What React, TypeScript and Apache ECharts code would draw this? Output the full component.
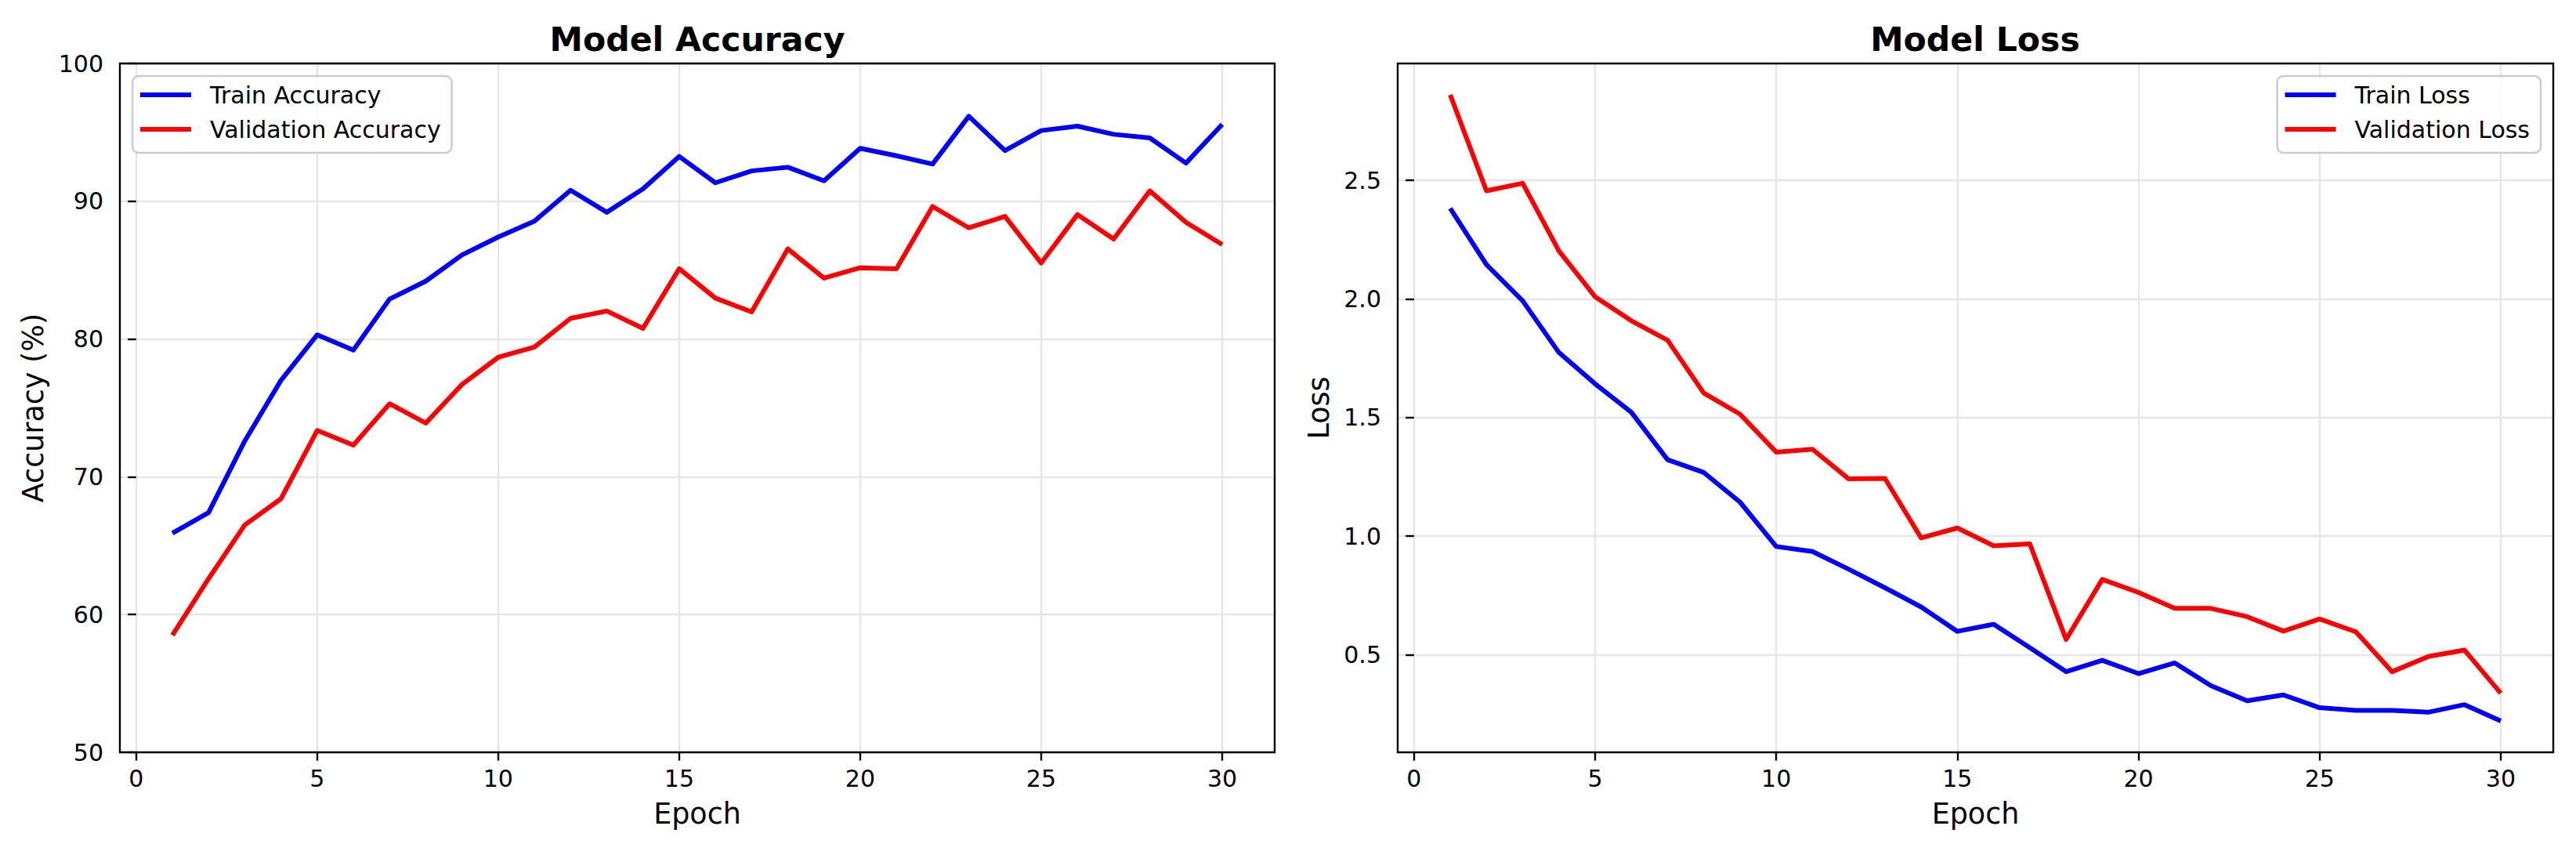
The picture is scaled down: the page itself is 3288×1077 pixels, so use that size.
import React, { useEffect, useRef } from "react";
import * as echarts from "echarts";

const epochs = [1, 2, 3, 4, 5, 6, 7, 8, 9, 10, 11, 12, 13, 14, 15, 16, 17, 18, 19, 20, 21, 22, 23, 24, 25, 26, 27, 28, 29, 30];

const trainAcc = [65.9, 67.4, 72.6, 77.0, 80.3, 79.2, 82.9, 84.2, 86.1, 87.4, 88.55, 90.8, 89.2, 90.9, 93.25, 91.34, 92.2, 92.47, 91.48, 93.84, 93.3, 92.7, 96.17, 93.68, 95.13, 95.45, 94.86, 94.6, 92.77, 95.58];
const valAcc = [58.5, 62.6, 66.5, 68.4, 73.36, 72.3, 75.3, 73.9, 76.7, 78.67, 79.42, 81.5, 82.03, 80.77, 85.1, 82.97, 81.97, 86.54, 84.42, 85.17, 85.09, 89.62, 88.07, 88.9, 85.52, 89.03, 87.26, 90.75, 88.47, 86.86];
const trainLoss = [2.382, 2.145, 1.992, 1.774, 1.642, 1.522, 1.322, 1.268, 1.143, 0.956, 0.935, 0.86, 0.782, 0.701, 0.598, 0.628, 0.529, 0.428, 0.476, 0.42, 0.465, 0.369, 0.305, 0.33, 0.276, 0.265, 0.265, 0.257, 0.289, 0.22];
const valLoss = [2.861, 2.456, 2.488, 2.203, 2.009, 1.908, 1.826, 1.603, 1.514, 1.354, 1.366, 1.241, 1.243, 0.992, 1.034, 0.959, 0.967, 0.564, 0.817, 0.762, 0.695, 0.695, 0.66, 0.599, 0.65, 0.596, 0.428, 0.492, 0.519, 0.337];

const xTicks = [0, 5, 10, 15, 20, 25, 30];
const accTicks = [50, 60, 70, 80, 90, 100];
const lossTicks = [0.5, 1.0, 1.5, 2.0, 2.5];

const titles = ["Model Accuracy", "Model Loss"];
const yNames = ["Accuracy (%)", "Loss"];
const xName = "Epoch";
const seriesNames = ["Train Accuracy", "Validation Accuracy", "Train Loss", "Validation Loss"];

const FONT = "DejaVu Sans";
const BLUE = "#0000ff";
const RED = "#ff0000";

function pad(arr: number[][], frac: number): [number, number] {
  let lo = Infinity, hi = -Infinity;
  arr.forEach((a) => a.forEach((v) => { lo = Math.min(lo, v); hi = Math.max(hi, v); }));
  const r = hi - lo;
  return [lo - r * frac, hi + r * frac];
}

export default function App() {
  const ref = useRef<HTMLDivElement>(null);
  useEffect(() => {
    if (!ref.current) return;
    const chart = echarts.init(ref.current, undefined, { renderer: "svg" });
    const xr = pad([epochs], 0.05);
    const lr = pad([trainLoss, valLoss], 0.05);

    const grids = [
      { left: 153, top: 81, width: 1474, height: 879 },
      { left: 1784, top: 81, width: 1475, height: 879 },
    ];

    const xAxis = [0, 1].map((i) => ({
      type: "value",
      gridIndex: i,
      min: xr[0],
      max: xr[1],
      axisLine: { show: false },
      axisTick: { show: true, length: 10.6, inside: false, lineStyle: { color: "#000", width: 2.4 }, customValues: xTicks },
      axisLabel: { customValues: xTicks, margin: 18, fontSize: 30, fontFamily: FONT, color: "#000" },
      splitLine: { show: true, lineStyle: { color: "#e6e6e6", width: 2.4 } },
      name: xName,
      nameLocation: "middle",
      nameGap: 60,
      nameTextStyle: { fontSize: 36.5, fontFamily: FONT, color: "#000" },
    }));

    const yAxis = [
      {
        type: "value",
        gridIndex: 0,
        min: accTicks[0],
        max: accTicks[accTicks.length - 1],
        axisLine: { show: false },
        axisTick: { show: true, length: 10.6, inside: false, lineStyle: { color: "#000", width: 2.4 }, customValues: accTicks },
        axisLabel: { customValues: accTicks, margin: 21, fontSize: 30, fontFamily: FONT, color: "#000" },
        splitLine: { show: true, lineStyle: { color: "#e6e6e6", width: 2.4 } },
        name: yNames[0],
        nameLocation: "middle",
        nameRotate: 90,
        nameGap: 92,
        nameTextStyle: { fontSize: 36.5, fontFamily: FONT, color: "#000" },
      },
      {
        type: "value",
        gridIndex: 1,
        min: lr[0],
        max: lr[1],
        axisLine: { show: false },
        axisTick: { show: true, length: 10.6, inside: false, lineStyle: { color: "#000", width: 2.4 }, customValues: lossTicks },
        axisLabel: {
          customValues: lossTicks,
          margin: 21,
          fontSize: 30,
          fontFamily: FONT,
          color: "#000",
          formatter: (v: number) => v.toFixed(1),
        },
        splitLine: { show: true, lineStyle: { color: "#e6e6e6", width: 2.4 } },
        name: yNames[1],
        nameLocation: "middle",
        nameRotate: 90,
        nameGap: 82,
        nameTextStyle: { fontSize: 36.5, fontFamily: FONT, color: "#000" },
      },
    ];

    const mk = (name: string, arr: number[], color: string, idx: number) => ({
      name,
      type: "line",
      xAxisIndex: idx,
      yAxisIndex: idx,
      data: epochs.map((e, i) => [e, arr[i]]),
      showSymbol: false,
      symbol: "none",
      color,
      lineStyle: { color, width: 6, join: "round", cap: "butt" },
      z: 3,
    });

    const legendBase = {
      orient: "vertical",
      top: 97,
      icon: "rect",
      itemWidth: 65,
      itemHeight: 6,
      itemGap: 14,
      padding: [9, 14, 15, 10],
      backgroundColor: "rgba(255,255,255,0.8)",
      borderColor: "#cccccc",
      borderWidth: 2.5,
      borderRadius: 8,
      textStyle: { fontSize: 30, fontFamily: FONT, color: "#000", padding: [0, 0, 0, 19] },
      selectedMode: false,
      z: 20,
    };

    chart.setOption({
      animation: false,
      backgroundColor: "#ffffff",
      grid: grids.map((g) => ({ ...g, show: true, borderColor: "#000", borderWidth: 0, backgroundColor: "#fff" })),
      xAxis,
      yAxis,
      legend: [
        { ...legendBase, left: 169, data: [seriesNames[0], seriesNames[1]] },
        { ...legendBase, right: 45, data: [seriesNames[2], seriesNames[3]] },
      ],
      series: [
        mk(seriesNames[0], trainAcc, BLUE, 0),
        mk(seriesNames[1], valAcc, RED, 0),
        mk(seriesNames[2], trainLoss, BLUE, 1),
        mk(seriesNames[3], valLoss, RED, 1),
      ],
      graphic: [
        ...grids.map((g) => ({
          type: "rect",
          z: 50,
          silent: true,
          shape: { x: g.left, y: g.top, width: g.width, height: g.height },
          style: { fill: "none", stroke: "#000", lineWidth: 2.4 },
        })),
        {
          type: "text",
          x: 890,
          y: 28,
          style: { text: titles[0], fontSize: 42.6, fontWeight: "bold", fontFamily: FONT, fill: "#000", align: "center", verticalAlign: "top" },
        },
        {
          type: "text",
          x: 2521,
          y: 28,
          style: { text: titles[1], fontSize: 42.6, fontWeight: "bold", fontFamily: FONT, fill: "#000", align: "center", verticalAlign: "top" },
        },
      ],
    });
    return () => chart.dispose();
  }, []);
  return <div ref={ref} style={{ position: "absolute", left: 0, top: 0, width: 3288, height: 1077 }} />;
}
